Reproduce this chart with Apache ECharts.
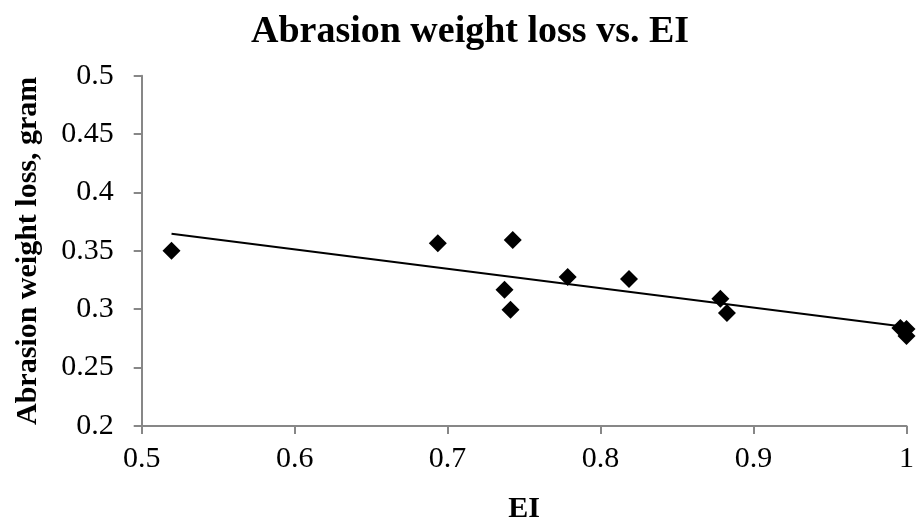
<!DOCTYPE html>
<html>
<head>
<meta charset="utf-8">
<script src="https://cdn.jsdelivr.net/npm/echarts@6/dist/echarts.min.js"></script>
<style>
  html, body { margin: 0; padding: 0; background: #fff; }
  #chart { width: 917px; height: 529px; }
</style>
</head>
<body>
<div id="chart"></div>
<script>
// Abrasion weight loss (gram) against EI
const eiValues = [0.5195, 0.6936, 0.7372, 0.7411, 0.7426, 0.7785, 0.8186, 0.8783, 0.8826, 0.996, 1.0, 1.0];
const weightLoss = [0.350, 0.3565, 0.3166, 0.2996, 0.3593, 0.3275, 0.3258, 0.309, 0.2967, 0.284, 0.283, 0.277];

const titleText = 'Abrasion weight loss vs. EI';
const xAxisTitle = 'EI';
const yAxisTitle = 'Abrasion weight loss, gram';

// Linear least-squares trendline over the measured points
function linearFit(xs, ys) {
  const n = xs.length;
  const mx = xs.reduce((a, b) => a + b, 0) / n;
  const my = ys.reduce((a, b) => a + b, 0) / n;
  let sxy = 0, sxx = 0;
  for (let i = 0; i < n; i++) {
    sxy += (xs[i] - mx) * (ys[i] - my);
    sxx += (xs[i] - mx) * (xs[i] - mx);
  }
  const slope = sxy / sxx;
  return { slope, intercept: my - slope * mx };
}
const fit = linearFit(eiValues, weightLoss);
const xMin = Math.min(...eiValues), xMax = Math.max(...eiValues);
const trendPoints = [xMin, xMax].map(x => [x, fit.intercept + fit.slope * x]);

const points = eiValues.map((x, i) => [x, weightLoss[i]]);

const serif = '"Liberation Serif", "Times New Roman", serif';
const axisGray = '#878787';

const chart = echarts.init(document.getElementById('chart'), null, { renderer: 'canvas' });
chart.setOption({
  animation: false,
  backgroundColor: '#ffffff',
  title: {
    text: titleText,
    left: 465,
    top: 8,
    textAlign: 'center',
    textStyle: { fontFamily: serif, fontWeight: 'bold', fontSize: 38, color: '#000' }
  },
  grid: { left: 141.7, right: 7.5, top: 75.7, bottom: 102.3, containLabel: false },
  xAxis: {
    type: 'value',
    min: 0.5, max: 1, interval: 0.1,
    name: xAxisTitle,
    nameLocation: 'middle',
    nameGap: 68,
    nameTextStyle: { fontFamily: serif, fontWeight: 'bold', fontSize: 30, color: '#000' },
    axisLine: { show: true, onZero: false, lineStyle: { color: axisGray, width: 2 } },
    axisTick: { show: true, inside: false, length: 8, lineStyle: { color: axisGray, width: 2 } },
    axisLabel: { fontFamily: serif, fontSize: 30, color: '#000', margin: 18 },
    splitLine: { show: false }
  },
  yAxis: {
    type: 'value',
    min: 0.2, max: 0.5, interval: 0.05,
    name: yAxisTitle,
    nameLocation: 'middle',
    nameRotate: 90,
    nameGap: 98,
    nameTextStyle: { fontFamily: serif, fontWeight: 'bold', fontSize: 30, color: '#000' },
    axisLine: { show: true, onZero: false, lineStyle: { color: axisGray, width: 2 } },
    axisTick: { show: true, inside: false, length: 8, lineStyle: { color: axisGray, width: 2 } },
    axisLabel: { fontFamily: serif, fontSize: 30, color: '#000', margin: 28 },
    splitLine: { show: false }
  },
  series: [
    {
      name: 'Trendline',
      type: 'line',
      data: trendPoints,
      showSymbol: false,
      symbol: 'none',
      lineStyle: { color: '#000', width: 2 },
      z: 2
    },
    {
      name: 'Weight loss',
      type: 'scatter',
      data: points,
      symbol: 'diamond',
      symbolSize: 18,
      clip: false,
      itemStyle: { color: '#000', opacity: 1 },
      z: 3
    }
  ]
});
</script>
</body>
</html>
